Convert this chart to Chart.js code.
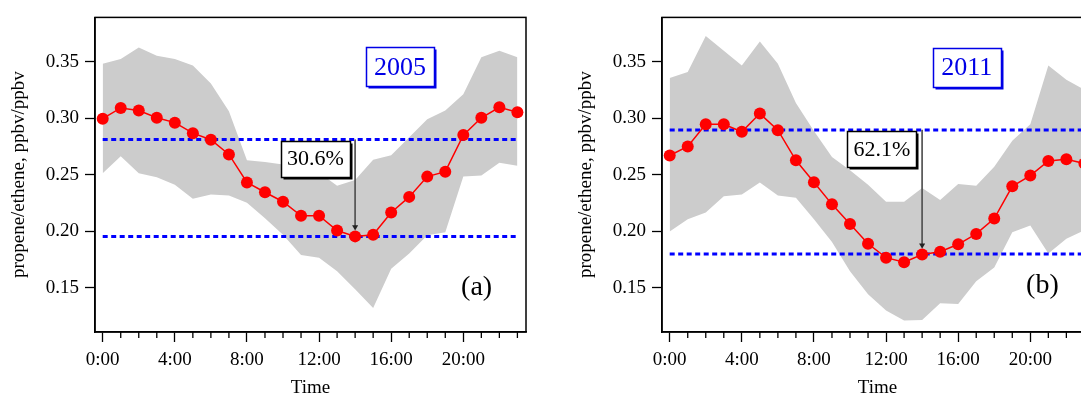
<!DOCTYPE html>
<html>
<head>
<meta charset="utf-8">
<script src="https://cdn.jsdelivr.net/npm/chart.js@4.4.0/dist/chart.umd.min.js"></script>
<style>
  html, body { margin: 0; padding: 0; background: #fff; overflow: hidden; width: 1081px; height: 398px; }
  canvas { position: absolute; top: 0; }
  #chartA { left: 0; }
  #chartB { left: 567px; }
</style>
</head>
<body>
<canvas id="chartA" width="545" height="398"></canvas>
<canvas id="chartB" width="545" height="398"></canvas>
<script>
const hours = [0, 1, 2, 3, 4, 5, 6, 7, 8, 9, 10, 11, 12, 13, 14, 15, 16, 17, 18, 19, 20, 21, 22, 23];
const majorHours = [0, 4, 8, 12, 16, 20];
const xTickLabels = ["0:00", "4:00", "8:00", "12:00", "16:00", "20:00"];
const yTicks = [0.15, 0.20, 0.25, 0.30, 0.35];

// 2005 panel
const ratio2005 = [0.2995, 0.309, 0.3067, 0.3003, 0.296, 0.2867, 0.2809, 0.2679, 0.2431, 0.2345, 0.2261, 0.2137,
                   0.2137, 0.2007, 0.1955, 0.1969, 0.2166, 0.2304, 0.2483, 0.2527, 0.285, 0.3003, 0.3095, 0.3052];
const upper2005 = [0.348, 0.3523, 0.3624, 0.3552, 0.3523, 0.3465, 0.3307, 0.3061, 0.2627, 0.2613, 0.259, 0.256,
                   0.252, 0.2402, 0.2454, 0.2633, 0.2671, 0.283, 0.2989, 0.3067, 0.3211, 0.3537, 0.3595, 0.3537];
const lower2005 = [0.2512, 0.2662, 0.2512, 0.2477, 0.2411, 0.2287, 0.2324, 0.2316, 0.2252, 0.2115, 0.197, 0.179,
                   0.1767, 0.1646, 0.1487, 0.1322, 0.1669, 0.1804, 0.1964, 0.1992, 0.2483, 0.2492, 0.2605, 0.2579];
const levels2005 = [0.281, 0.1955];

// 2011 panel
const ratio2011 = [0.267, 0.2749, 0.2945, 0.2945, 0.2879, 0.304, 0.2893, 0.2627, 0.2434, 0.2238, 0.2064, 0.189,
                   0.1767, 0.1726, 0.1795, 0.1819, 0.1885, 0.1977, 0.2113, 0.2397, 0.2492, 0.2622, 0.2636, 0.2599];
const upper2011 = [0.3355, 0.3407, 0.3725, 0.3595, 0.3465, 0.3676, 0.348, 0.3133, 0.2887, 0.2657, 0.254, 0.2411,
                   0.2261, 0.226, 0.2382, 0.2276, 0.2417, 0.2402, 0.257, 0.2801, 0.2945, 0.3465, 0.334, 0.325];
const lower2011 = [0.1998, 0.2107, 0.2166, 0.231, 0.2325, 0.2432, 0.2316, 0.2296, 0.2107, 0.1906, 0.1646, 0.1443,
                   0.1299, 0.1212, 0.1215, 0.1363, 0.1357, 0.1559, 0.168, 0.1992, 0.205, 0.1804, 0.1934, 0.201];
const levels2011 = [0.2896, 0.1799];

const serif = "'Liberation Serif', 'Times New Roman', serif";

function textBox(ctx, cx, cy, w, h, text, size, color) {
  const l = Math.round(cx - w / 2) + 0.5, t = Math.round(cy - h / 2) + 0.5;
  ctx.fillStyle = color;
  ctx.fillRect(l + 2, t + 2, w, h);
  ctx.fillStyle = "#fff";
  ctx.fillRect(l, t, w, h);
  ctx.strokeStyle = color;
  ctx.lineWidth = 1.5;
  ctx.strokeRect(l, t, w, h);
  ctx.fillStyle = color;
  ctx.font = size + "px " + serif;
  ctx.textAlign = "center";
  ctx.textBaseline = "middle";
  ctx.fillText(text, cx, cy + 1);
}

function decor(note) {
  return {
    id: "decor",
    afterDraw(chart) {
      const { ctx, chartArea: a, scales: { x, y } } = chart;
      ctx.save();
      // minor hour ticks
      ctx.strokeStyle = "#000";
      ctx.lineWidth = 1.3;
      hours.forEach(h => {
        if (majorHours.includes(h)) return;
        const px = x.getPixelForValue(h);
        ctx.beginPath();
        ctx.moveTo(px, a.bottom);
        ctx.lineTo(px, a.bottom + 6);
        ctx.stroke();
      });
      // frame
      ctx.lineWidth = 1.5;
      ctx.strokeRect(a.left, a.top, a.right - a.left, a.bottom - a.top);
      textBox(ctx, x.getPixelForValue(note.changeAt[0]), y.getPixelForValue(note.changeAt[1]), 69, 36, note.change, 22, "#000");
      textBox(ctx, x.getPixelForValue(note.yearAt[0]), y.getPixelForValue(note.yearAt[1]), 68, 39, note.year, 26, "#0000e6");
      ctx.fillStyle = "#000";
      ctx.font = "28px " + serif;
      ctx.textAlign = "center";
      ctx.textBaseline = "middle";
      ctx.fillText(note.panel, x.getPixelForValue(note.panelAt[0]), y.getPixelForValue(note.panelAt[1]));
      ctx.restore();
    }
  };
}

function makePanel(id, ratio, upper, lower, levels, note) {
  const ctx = document.getElementById(id).getContext("2d");
  const pts = arr => hours.map((h, i) => ({ x: h, y: arr[i] }));
  return new Chart(ctx, {
    type: "line",
    data: {
      datasets: [
        {
          label: "ratio",
          data: pts(ratio),
          borderColor: "#ff0000",
          backgroundColor: "#ff0000",
          borderWidth: 1.5,
          pointRadius: 6,
          pointBorderWidth: 0,
          pointBackgroundColor: "#ff0000",
          tension: 0
        },
        {
          label: "arrow",
          data: [{ x: 14, y: levels[0] }, { x: 14, y: ratio[14] + 0.0082 }],
          borderColor: "#555",
          borderWidth: 1,
          pointRadius: [0, 3.5],
          pointStyle: "triangle",
          rotation: 180,
          pointBackgroundColor: "#222",
          pointBorderWidth: 0
        },
        {
          label: "high",
          data: [{ x: 0, y: levels[0] }, { x: 23, y: levels[0] }],
          borderColor: "#0000ff",
          borderWidth: 3,
          borderDash: [5, 3.5],
          pointRadius: 0
        },
        {
          label: "low",
          data: [{ x: 0, y: levels[1] }, { x: 23, y: levels[1] }],
          borderColor: "#0000ff",
          borderWidth: 3,
          borderDash: [5, 3.5],
          pointRadius: 0
        },
        {
          label: "upper",
          data: pts(upper),
          borderColor: "rgba(0,0,0,0)",
          borderWidth: 0,
          pointRadius: 0,
          backgroundColor: "#cccccc",
          fill: "+1"
        },
        {
          label: "lower",
          data: pts(lower),
          borderColor: "rgba(0,0,0,0)",
          borderWidth: 0,
          pointRadius: 0,
          fill: false
        }
      ]
    },
    options: {
      responsive: false,
      animation: false,
      layout: { padding: { left: 0, right: 19, top: 11, bottom: 0 } },
      plugins: { legend: { display: false }, tooltip: { enabled: false } },
      scales: {
        x: {
          type: "linear",
          min: -0.427,
          max: 23.477,
          afterBuildTicks: s => { s.ticks = majorHours.map(v => ({ value: v })); },
          afterFit: s => { s.height = 66; },
          grid: { drawOnChartArea: false, drawTicks: true, tickLength: 10, tickColor: "#000", tickWidth: 1.3 },
          border: { display: true, color: "#000", width: 1.5 },
          ticks: {
            padding: 7,
            color: "#000",
            autoSkip: false,
            maxRotation: 0,
            font: { family: serif, size: 19 },
            callback: (v, i) => xTickLabels[i]
          },
          title: { display: true, text: "Time", color: "#000", font: { family: serif, size: 19, lineHeight: 1 }, padding: 0 }
        },
        y: {
          min: 0.111,
          max: 0.389,
          afterBuildTicks: s => { s.ticks = yTicks.map(v => ({ value: v })); },
          afterFit: s => { s.width = 95; },
          grid: { drawOnChartArea: false, drawTicks: true, tickLength: 10, tickColor: "#000", tickWidth: 1.3 },
          border: { display: true, color: "#000", width: 1.5 },
          ticks: {
            padding: 6,
            color: "#000",
            font: { family: serif, size: 19 },
            callback: v => v.toFixed(2)
          },
          title: {
            display: true,
            text: "propene/ethene, ppbv/ppbv",
            color: "#000",
            font: { family: serif, size: 19, lineHeight: 1 },
            padding: { top: 10, bottom: 0 }
          }
        }
      }
    },
    plugins: [decor(note)]
  });
}

makePanel("chartA", ratio2005, upper2005, lower2005, levels2005, {
  change: "30.6%", changeAt: [11.8, 0.2642],
  year: "2005", yearAt: [16.49, 0.3452],
  panel: "(a)", panelAt: [20.74, 0.150]
});
makePanel("chartB", ratio2011, upper2011, lower2011, levels2011, {
  change: "62.1%", changeAt: [11.77, 0.2724],
  year: "2011", yearAt: [16.48, 0.3448],
  panel: "(b)", panelAt: [20.67, 0.1516]
});
</script>
</body>
</html>
